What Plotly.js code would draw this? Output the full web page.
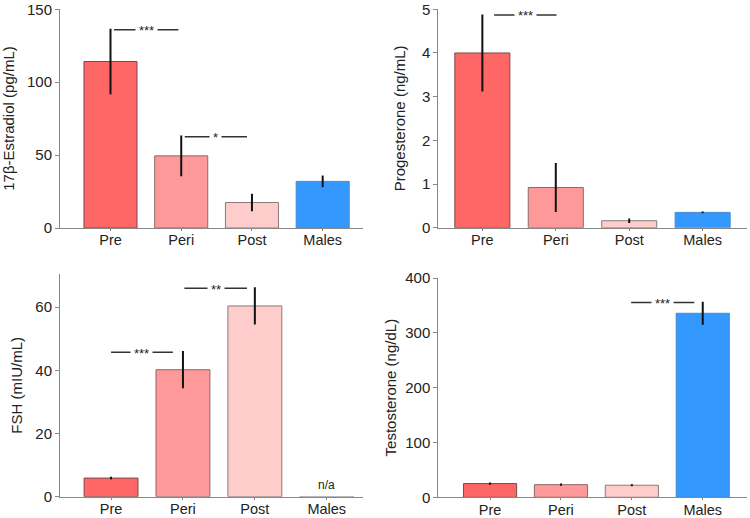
<!DOCTYPE html>
<html>
<head>
<meta charset="utf-8">
<script src="https://cdn.plot.ly/plotly-3.0.1.min.js"></script>
<style>html,body{margin:0;padding:0;background:#fff;}#chart{width:750px;height:518px;}</style>
</head>
<body>
<div id="chart"></div>
<script>
var groups = ["Pre", "Peri", "Post", "Males"];
var colors = ["#FF6666", "#FF9999", "#FFCCCC", "#3399FF"];

var estradiol = [114.2, 49.5, 17.5, 32];
var estradiolErr = [22.5, 14, 6, 4];
var progesterone = [4.0, 0.92, 0.16, 0.35];
var progesteroneErr = [0.88, 0.56, 0.05, 0.02];
var fsh = [5.9, 40.2, 60.4, null];
var fshErr = [0.4, 5.9, 5.9, 0];
var testosterone = [25, 23, 22, 336];
var testosteroneErr = [2, 2, 2, 21];

// significance markers: [from position, to position, y value, label]
var sigEstradiol = [[0.05, 0.96, 136, "***"], [1.05, 1.93, 62.6, "*"]];
var sigProgesterone = [[0.16, 1.01, 4.87, "***"]];
var sigFsh = [[0.0, 0.86, 45.7, "***"], [1.02, 1.89, 66.0, "**"]];
var sigTestosterone = [[1.99, 2.88, 355.7, "***"]];

var panels = [
  {vals: estradiol, err: estradiolErr, sig: sigEstradiol, title: "17β-Estradiol (pg/mL)", yr: [0, 150.2], dtick: 50,
   xd: [0.08, 0.484], yd: [0.5598, 0.9825], xr: [-0.714, 3.57], so: 9},
  {vals: progesterone, err: progesteroneErr, sig: sigProgesterone, title: "Progesterone (ng/mL)", yr: [0, 5.005], dtick: 1,
   xd: [0.5844, 0.9956], yd: [0.5604, 0.9825], xr: [-0.60, 3.60], so: 12},
  {vals: fsh, err: fshErr, sig: sigFsh, title: "FSH (mIU/mL)", yr: [0, 70.5], dtick: 20,
   xd: [0.08, 0.4836], yd: [0.0411, 0.471], xr: [-0.71, 3.5], so: 9},
  {vals: testosterone, err: testosteroneErr, sig: sigTestosterone, title: "Testosterone (ng/dL)", yr: [0, 400.4], dtick: 100,
   xd: [0.5844, 0.9956], yd: [0.0400, 0.4633], xr: [-0.73, 3.62], so: 5}
];

var traces = [];
var shapes = [];
var annotations = [];
var layout = {
  width: 750, height: 518,
  margin: {l: 0, r: 0, t: 0, b: 0},
  paper_bgcolor: "#fff", plot_bgcolor: "#fff",
  showlegend: false,
  font: {family: "Liberation Sans, Arial, sans-serif", size: 14, color: "#222"}
};

panels.forEach(function (p, i) {
  var n = i + 1;
  var xa = "x" + (n === 1 ? "" : n), ya = "y" + (n === 1 ? "" : n);
  traces.push({
    type: "bar", x: groups, y: p.vals, xaxis: xa, yaxis: ya,
    width: 0.75,
    marker: {color: colors, line: {color: ["#7a4a4a", "#8a6a6a", "#8a7a7a", "#4a8ad0"], width: 1}},
    error_y: {type: "data", array: p.err, visible: true, color: "#111", thickness: 2, width: 0},
    hoverinfo: "x+y"
  });
  var xk = "xaxis" + (n === 1 ? "" : n), yk = "yaxis" + (n === 1 ? "" : n);
  layout[xk] = {
    domain: p.xd, anchor: ya, range: p.xr, type: "category",
    showline: true, linecolor: "#888", linewidth: 1,
    ticks: "outside", ticklen: 2, tickcolor: "#888",
    ticklabelstandoff: -3,
    showgrid: false, zeroline: false, fixedrange: true,
    tickfont: {size: 14.5, color: "#222"}
  };
  layout[yk] = {
    domain: p.yd, anchor: xa, range: p.yr, dtick: p.dtick, tick0: 0,
    showline: true, linecolor: "#888", linewidth: 1,
    ticks: "outside", ticklen: 4, tickcolor: "#888",
    ticklabeloverflow: "allow",
    showgrid: false, zeroline: false, fixedrange: true,
    tickfont: {size: 15, color: "#222"},
    title: {text: p.title, font: {size: 15, color: "#222"}, standoff: p.so}
  };
  p.sig.forEach(function (s) {
    shapes.push({type: "line", xref: xa, yref: ya, x0: s[0], x1: s[1], y0: s[2], y1: s[2],
      line: {color: "#333", width: 1.5}});
    annotations.push({xref: xa, yref: ya, x: (s[0] + s[1]) / 2, y: s[2], text: s[3],
      showarrow: false, bgcolor: "#fff", font: {size: 13, color: "#222"},
      borderpad: 3, xanchor: "center", yanchor: "middle", yshift: -1});
  });
});

annotations.push({xref: "x3", yref: "y3", x: "Males", y: 0, text: "n/a", showarrow: false,
  yanchor: "bottom", yshift: 3, font: {size: 12, color: "#222"}});
shapes.push({type: "line", xref: "x3", yref: "y3", x0: 2.62, x1: 3.38, y0: 0, y1: 0,
  line: {color: "#888", width: 1}});

layout.shapes = shapes;
layout.annotations = annotations;

Plotly.newPlot("chart", traces, layout, {displayModeBar: false, staticPlot: true});
</script>
</body>
</html>
